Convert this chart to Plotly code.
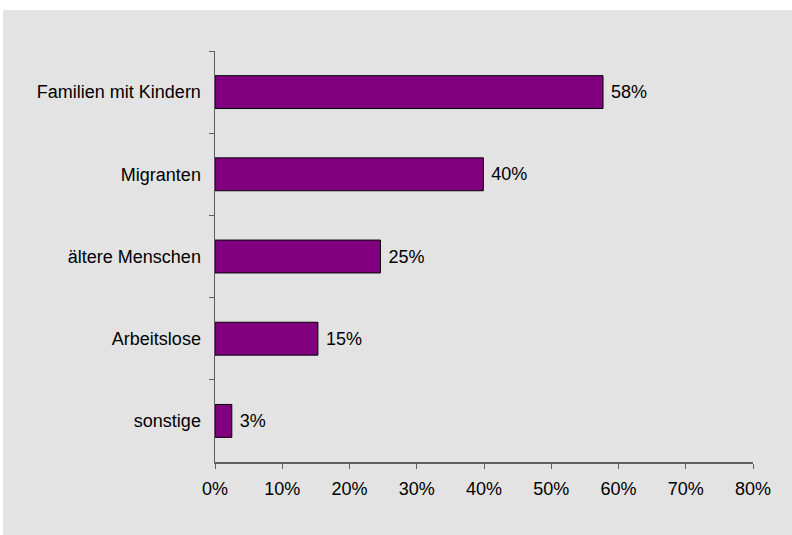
import plotly.graph_objects as go

categories = ["Familien mit Kindern", "Migranten", "ältere Menschen", "Arbeitslose", "sonstige"]
values = [57.7, 39.9, 24.6, 15.3, 2.5]
value_labels = ["58%", "40%", "25%", "15%", "3%"]
x_ticks = [0, 10, 20, 30, 40, 50, 60, 70, 80]

W, H = 792, 535
L, R, T, B = 215, 39, 51, 73
pw, ph = W - L - R, H - T - B

def px_x(p):
    return (p - L) / pw

def px_y(p):
    return (H - B - p) / ph

FONT = "Liberation Sans, Arial, Helvetica, sans-serif"
FS = 18

fig = go.Figure()
fig.add_trace(go.Bar(
    x=values,
    y=categories,
    orientation="h",
    marker=dict(color="#800080", line=dict(color="#000000", width=1)),
    text=[" " + t for t in value_labels],
    textposition="outside",
    textfont=dict(family=FONT, size=FS, color="#000000"),
    cliponaxis=False,
    hoverinfo="skip",
))

fig.update_layout(
    width=W, height=H,
    margin=dict(l=L, r=R, t=T, b=B, autoexpand=False),
    paper_bgcolor="#ffffff",
    plot_bgcolor="#ffffff",
    bargap=0.6,
    showlegend=False,
    font=dict(family=FONT, size=FS, color="#000000"),
    shapes=[dict(
        type="rect", xref="paper", yref="paper",
        x0=px_x(3), x1=px_x(W + 5), y0=px_y(H + 5), y1=px_y(10),
        fillcolor="#e3e3e3", line=dict(width=0), layer="below",
    )],
)

fig.update_xaxes(
    range=[0, 80],
    tickvals=x_ticks,
    ticktext=[f"{v}%" for v in x_ticks],
    showgrid=False, zeroline=False,
    showline=True, linecolor="#5f5f5f", linewidth=1.5,
    ticks="outside", ticklen=5, tickcolor="#5f5f5f", tickwidth=1,
    ticklabelstandoff=5,
    tickfont=dict(family=FONT, size=FS, color="#000000"),
)
fig.update_yaxes(
    autorange="reversed",
    type="category",
    tickson="boundaries",
    showgrid=False, zeroline=False,
    showline=True, linecolor="#5f5f5f", linewidth=1.5,
    ticks="outside", ticklen=5, tickcolor="#5f5f5f", tickwidth=1,
    ticklabelstandoff=9,
    tickfont=dict(family=FONT, size=FS, color="#000000"),
)

fig.write_html(
    "out.html",
    config={"displayModeBar": False, "staticPlot": True},
    post_script="document.body.style.margin='0';document.body.style.padding='0';",
)
